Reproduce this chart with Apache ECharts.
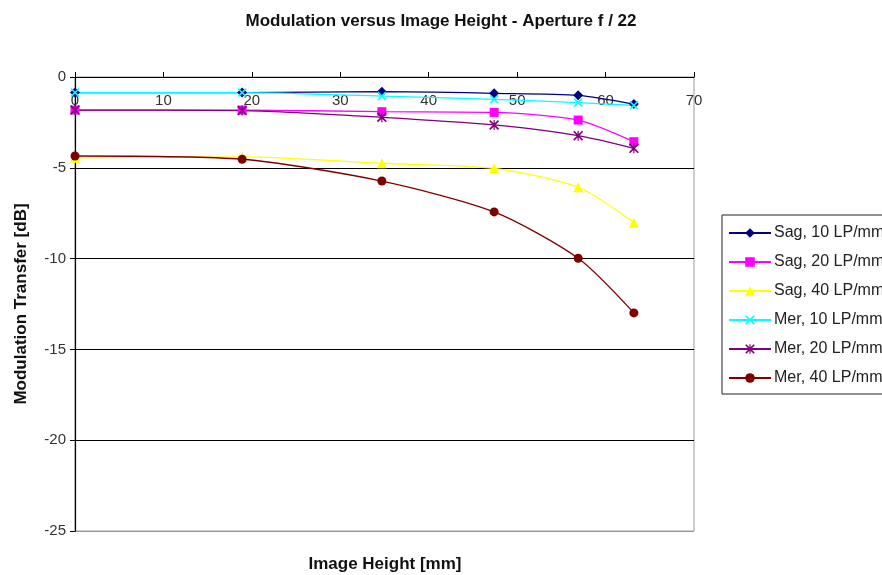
<!DOCTYPE html>
<html>
<head>
<meta charset="utf-8">
<script src="https://cdn.jsdelivr.net/npm/echarts@6/dist/echarts.min.js"></script>
<style>
  html, body { margin: 0; padding: 0; background: #fff; }
  #chart { width: 882px; height: 575px; }
</style>
</head>
<body>
<div id="chart"></div>
<script>
// Image heights [mm] at which modulation was measured
const imageHeights = [0, 18.9, 34.7, 47.4, 56.9, 63.2];

// Modulation transfer [dB] per orientation and spatial frequency
const sag10 = [-0.86, -0.86, -0.81, -0.90, -1.01, -1.49];
const sag20 = [-1.82, -1.82, -1.91, -1.95, -2.37, -3.56];
const sag40 = [-4.45, -4.40, -4.75, -5.03, -6.07, -8.02];
const mer10 = [-0.86, -0.86, -1.05, -1.23, -1.41, -1.56];
const mer20 = [-1.82, -1.85, -2.22, -2.64, -3.23, -3.93];
const mer40 = [-4.35, -4.53, -5.73, -7.43, -9.98, -12.99];

const seriesNames = [
  'Sag, 10 LP/mm', 'Sag, 20 LP/mm', 'Sag, 40 LP/mm',
  'Mer, 10 LP/mm', 'Mer, 20 LP/mm', 'Mer, 40 LP/mm'
];
const seriesValues = [sag10, sag20, sag40, mer10, mer20, mer40];

const xTicks = [0, 10, 20, 30, 40, 50, 60, 70];
const yTicks = [-25, -20, -15, -10, -5, 0];

// marker shapes
const crossPath = 'path://M0,1.2 L1.2,0 L5,3.8 L8.8,0 L10,1.2 L6.2,5 L10,8.8 L8.8,10 L5,6.2 L1.2,10 L0,8.8 L3.8,5 Z';
const starPath = 'path://M0,1.2 L1.2,0 L5,3.8 L8.8,0 L10,1.2 L6.2,5 L10,8.8 L8.8,10 L5,6.2 L1.2,10 L0,8.8 L3.8,5 Z M4.4,0 L5.6,0 L5.6,10 L4.4,10 Z';

const styles = [
  { color: '#000080', symbol: 'diamond', size: 10 },
  { color: '#ff00ff', symbol: 'rect', size: 9 },
  { color: '#ffff00', symbol: 'triangle', size: 10 },
  { color: '#00ffff', symbol: crossPath, size: 9 },
  { color: '#800080', symbol: starPath, size: 10 },
  { color: '#800000', symbol: 'circle', size: 9 }
];

const font = 'Liberation Sans, Arial, sans-serif';

const chart = echarts.init(document.getElementById('chart'), null, { renderer: 'canvas' });

chart.setOption({
  backgroundColor: '#ffffff',
  animation: false,
  title: [
    {
      text: 'Modulation versus Image Height - Aperture f / 22',
      left: 436, top: 8, textAlign: 'center',
      textStyle: { fontFamily: font, fontSize: 17, fontWeight: 'bold', color: '#111' }
    },
    {
      text: 'Image Height [mm]',
      left: 380, top: 551, textAlign: 'center',
      textStyle: { fontFamily: font, fontSize: 17, fontWeight: 'bold', color: '#111' }
    }
  ],
  legend: {
    orient: 'vertical',
    left: 722, top: 215,
    padding: [10, 6, 8, 6],
    itemWidth: 42, itemHeight: 12,
    itemGap: 13,
    borderColor: '#222', borderWidth: 1,
    backgroundColor: '#fff',
    textStyle: { fontFamily: font, fontSize: 16, color: '#222', padding: [0, 0, 0, -2] },
    data: seriesNames
  },
  grid: {
    left: 75, right: 188, top: 77, bottom: 44,
    outerBoundsMode: 'none',
    show: true, borderColor: '#9a9a9a', borderWidth: 1
  },
  xAxis: {
    type: 'value',
    position: 'top',
    min: xTicks[0], max: xTicks[xTicks.length - 1], interval: 10,
    axisLine: { onZero: false, lineStyle: { color: '#000', width: 1 } },
    axisTick: { show: true, inside: false, length: 5, lineStyle: { color: '#000' } },
    axisLabel: {
      inside: true, margin: 16, showMinLabel: true, showMaxLabel: true,
      fontFamily: font, fontSize: 15, color: '#333'
    },
    splitLine: { show: false }
  },
  yAxis: {
    type: 'value',
    min: yTicks[0], max: yTicks[yTicks.length - 1], interval: 5,
    name: 'Modulation Transfer [dB]',
    nameLocation: 'middle', nameGap: 45, nameRotate: 90,
    nameTextStyle: { fontFamily: font, fontSize: 17, fontWeight: 'bold', color: '#111' },
    axisLine: { show: true, onZero: false, lineStyle: { color: '#000', width: 1.2 } },
    axisTick: { show: true, length: 5, lineStyle: { color: '#000' } },
    axisLabel: { margin: 9, fontFamily: font, fontSize: 15, color: '#333' },
    splitLine: {
      show: true,
      lineStyle: { color: ['#9a9a9a', '#000', '#000', '#000', '#000', '#000'], width: 1.2 }
    }
  },
  series: seriesNames.map((name, i) => ({
    name: name,
    type: 'line',
    data: imageHeights.map((x, j) => [x, seriesValues[i][j]]),
    smooth: 0.25,
    symbol: styles[i].symbol,
    symbolSize: styles[i].size,
    showAllSymbol: true,
    lineStyle: { color: styles[i].color, width: 1.3 },
    itemStyle: { color: styles[i].color },
    emphasis: { disabled: true }
  }))
});
</script>
</body>
</html>
